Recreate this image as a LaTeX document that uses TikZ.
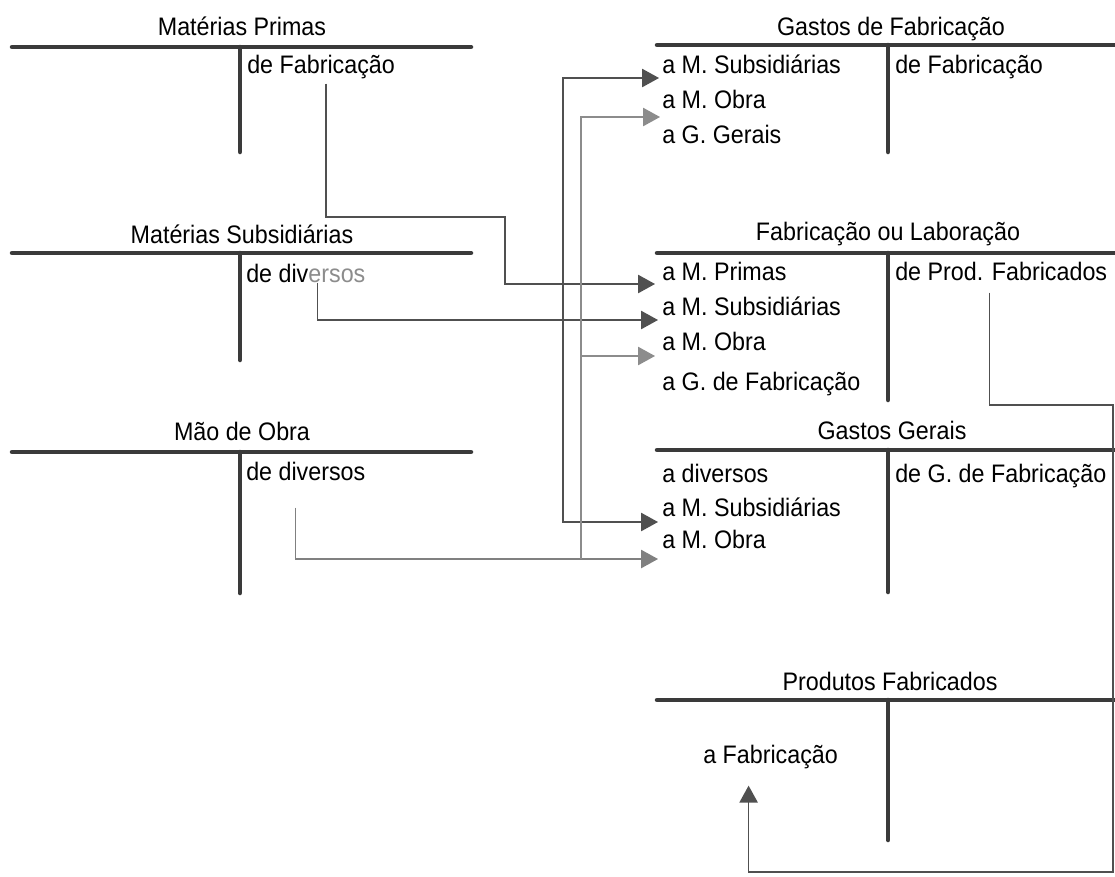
\documentclass[tikz,border=0pt]{standalone}
\usepackage{fontspec}
\setmainfont{Liberation Sans}[FakeStretch=0.92]
\usepackage{xcolor}
\usetikzlibrary{arrows.meta}
\usetikzlibrary{positioning}
\usetikzlibrary{calc}

\definecolor{barcol}{HTML}{3A3A3A}
\definecolor{flowcol}{HTML}{505050}
\definecolor{lightcol}{HTML}{8C8C8C}

\tikzset{
  bar/.style={line width=3.2pt, draw=barcol, line cap=round},
  title/.style={anchor=base, inner sep=0pt, font=\fontsize{18pt}{20pt}\selectfont},
  entry/.style={anchor=base west, inner sep=0pt, font=\fontsize{18pt}{20pt}\selectfont},
  link/.style={line width=0.9pt, draw=flowcol},
  flow/.style={link, -{Triangle[length=12pt,width=13pt]}},
}

\begin{document}
\begin{tikzpicture}[x=0.025cm, y=-0.025cm]
\useasboundingbox (0,0) rectangle (1115,876);

%T-accounts on the left
\draw[bar] (12,47) -- (471,47);
\draw[bar] (240,47) -- (240,152);
\draw[bar] (12,253) -- (471,253);
\draw[bar] (240,253) -- (240,360);
\draw[bar] (12,452) -- (471,452);
\draw[bar] (240,452) -- (240,593);

%T-accounts on the right
\draw[bar] (657,45) -- (1115,45);
\draw[bar] (888,45) -- (888,152);
\draw[bar] (657,253) -- (1115,253);
\draw[bar] (888,253) -- (888,400);
\draw[bar] (657,450) -- (1115,450);
\draw[bar] (888,450) -- (888,592);
\draw[bar] (657,700) -- (1115,700);
\draw[bar] (888,700) -- (888,840);

%titles
\node[title] (mpT) at (242,35) {Matérias Primas};
\node[title] (msT) at (242,243) {Matérias Subsidiárias};
\node[title] (moT) at (242,440) {Mão de Obra};
\node[title] (gfT) at (891,35) {Gastos de Fabricação};
\node[title] (flT) at (888,240) {Fabricação ou Laboração};
\node[title] (ggT) at (892,439) {Gastos Gerais};
\node[title] (pfT) at (890,690) {Produtos Fabricados};

%entries
\node[entry] (mpC) at (247,73) {de Fabricação};
\node[entry] (msC) at (246,282) {de div\textcolor{lightcol}{ersos}};
\node[entry] (moC) at (246,480) {de diversos};

\node[entry] (gf1) at (662,73) {a M. Subsidiárias};
\node[entry] (gf2) at (662,108) {a M. Obra};
\node[entry] (gf3) at (662,143) {a G. Gerais};
\node[entry] (gfC) at (895,73) {de Fabricação};

\node[entry] (fl1) at (662,280) {a M. Primas};
\node[entry] (fl2) at (662,315) {a M. Subsidiárias};
\node[entry] (fl3) at (662,350) {a M. Obra};
\node[entry] (fl4) at (662,390) {a G. de Fabricação};
\node[entry] (flC) at (895,280) {de Prod. Fabricados};

\node[entry] (gg1) at (662,482) {a diversos};
\node[entry] (gg2) at (662,516) {a M. Subsidiárias};
\node[entry] (gg3) at (662,548) {a M. Obra};
\node[entry] (ggC) at (895,482) {de G. de Fabricação};

\node[entry] (pf1) at (703,763) {a Fabricação};

%arrow ends
\coordinate (gf1in) at ($(gf1.base west)+(-3,5)$);
\coordinate (gf2in) at ($(gf2.base west)+(-2,9)$);
\coordinate (fl1in) at ($(fl1.base west)+(-7,4)$);
\coordinate (fl2in) at ($(fl2.base west)+(-4,5)$);
\coordinate (fl3in) at ($(fl3.base west)+(-7,6)$);
\coordinate (gg2in) at ($(gg2.base west)+(-4,6)$);
\coordinate (gg3in) at ($(gg3.base west)+(-4,11)$);
\coordinate (pf1in) at ($(pf1.south)+(-22,17)$);

%bends
\coordinate (mpBend) at (505,217);
\coordinate (msJ) at (563,0);
\coordinate (moJ) at (581,0);
\coordinate (rTop) at (1113,405);
\coordinate (rBot) at (1113,872);

%arrows
\draw[flow] ($(mpC.south)+(5,5)$) |- (mpBend) |- (fl1in);
\draw[flow] ($(msC.south)+(12,0)$) |- (fl2in);
\draw[flow] (msJ |- fl2in) |- (gf1in);
\draw[flow] (msJ |- fl2in) |- (gg2in);
\draw[flow, draw=lightcol!80!flowcol] ($(moC.south)+(-10,27)$) |- (gg3in);
\draw[flow, draw=lightcol] (moJ |- gg3in) |- (gf2in);
\draw[flow, draw=lightcol] (moJ |- gg3in) |- (fl3in);
\draw[flow] ($(flC.south)+(-12,12)$) |- (rTop) -- (rBot) -| (pf1in);

\end{tikzpicture}
\end{document}
